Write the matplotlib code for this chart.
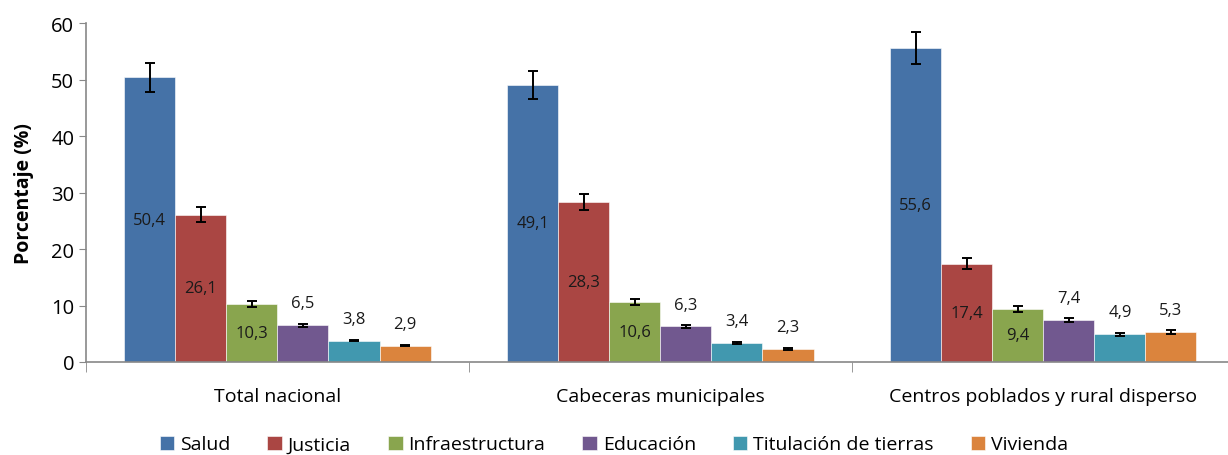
import matplotlib.pyplot as plt
import numpy as np

plt.rcParams["font.family"] = ["Open Sans", "DejaVu Sans"]

categories = ["Total nacional", "Cabeceras municipales", "Centros poblados y rural disperso"]
series = ["Salud", "Justicia", "Infraestructura", "Educación", "Titulación de tierras", "Vivienda"]
values = [
    [50.4, 49.1, 55.6],
    [26.1, 28.3, 17.4],
    [10.3, 10.6, 9.4],
    [6.5, 6.3, 7.4],
    [3.8, 3.4, 4.9],
    [2.9, 2.3, 5.3],
]
errors = [
    [2.55, 2.45, 2.8],
    [1.3, 1.45, 0.95],
    [0.5, 0.5, 0.5],
    [0.3, 0.3, 0.4],
    [0.15, 0.15, 0.25],
    [0.1, 0.1, 0.3],
]
inside = [True, True, True, False, False, False]
colors = ["#4572A7", "#AA4643", "#89A54E", "#71588F", "#4198AF", "#DB843D"]

fig = plt.figure(figsize=[12.28, 4.56], dpi=100)
ax = fig.add_axes([0.070, 0.204, 0.9355, 0.743])

n = len(series)
width = 0.8 / n
x = np.arange(len(categories)) + 0.5
for i, name in enumerate(series):
    xs = x - 0.4 + width * (i + 0.5)
    ax.bar(xs, values[i], width, color=colors[i], label=name,
           edgecolor="white", linewidth=0.4)
    ax.errorbar(xs, values[i], yerr=errors[i], fmt="none", ecolor="black",
                elinewidth=1.4, capsize=3.8, capthick=1.4)
    for xv, v in zip(xs, values[i]):
        txt = f"{v:.1f}".replace(".", ",")
        if inside[i]:
            ax.text(xv, v / 2, txt, ha="center", va="center", fontsize=12, color="#1a1a1a")
        else:
            ax.annotate(txt, (xv, v), xytext=(0, 10), textcoords="offset points",
                        ha="center", va="bottom", fontsize=12, color="#1a1a1a")

ax.set_xlim(0, 3)
ax.set_ylim(0, 60)
ax.set_yticks(range(0, 61, 10))
ax.set_xticks(x)
ax.set_xticklabels(categories, fontsize=14)
ax.set_xticks([0, 1, 2, 3], minor=True)
ax.tick_params(axis="x", which="major", length=0, pad=18)
ax.tick_params(axis="x", which="minor", length=7, color="#888888", direction="out")
ax.tick_params(axis="y", length=5, color="#888888", labelsize=14.5, direction="out")
for s in ["top", "right"]:
    ax.spines[s].set_visible(False)
for s in ["left", "bottom"]:
    ax.spines[s].set_color("#888888")
    ax.spines[s].set_linewidth(1.2)
ax.set_ylabel("Porcentaje (%)", fontsize=14, fontweight="bold", labelpad=12)

fig.legend(loc="lower center", bbox_to_anchor=(0.5, -0.035), ncol=6, frameon=False,
           fontsize=14, handlelength=0.75, handleheight=0.75, handletextpad=0.3,
           columnspacing=1.9)

plt.savefig("out.png", dpi=100)
plt.close()
